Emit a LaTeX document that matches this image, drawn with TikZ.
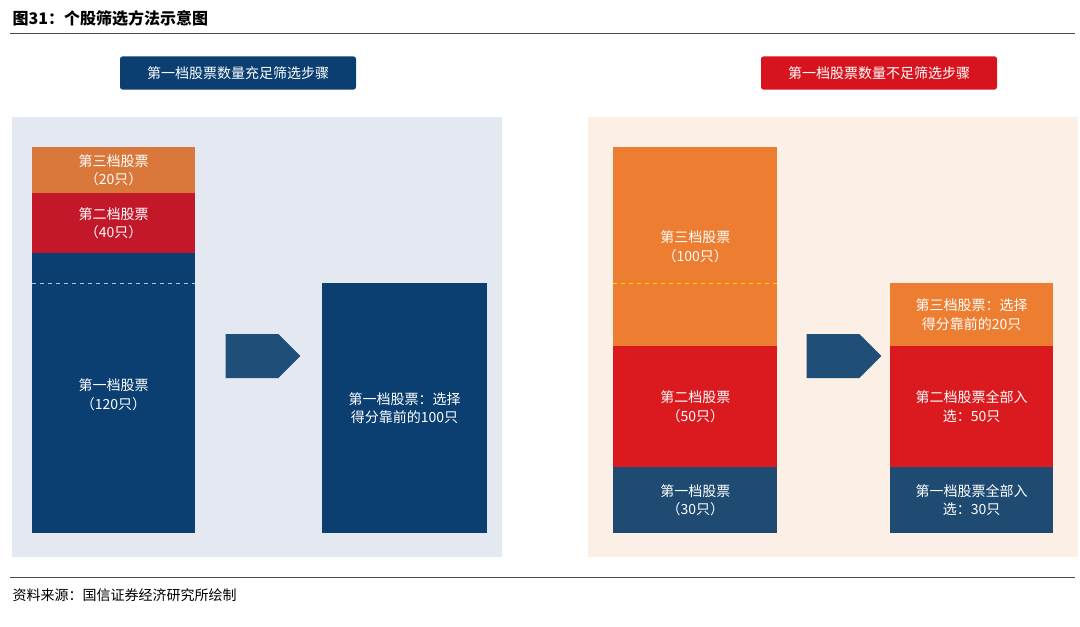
\documentclass[tikz,border=0pt]{standalone}
\usepackage{fontspec}
\setmainfont{Noto Sans CJK SC}
\usetikzlibrary{shapes.arrows,positioning}
\definecolor{navyL}{HTML}{0B3F72}
\definecolor{redL}{HTML}{C3182A}
\definecolor{orangeL}{HTML}{D9783A}
\definecolor{navyR}{HTML}{1F4A72}
\definecolor{redR}{HTML}{DA1A1F}
\definecolor{orangeR}{HTML}{ED7D31}
\definecolor{arrowC}{HTML}{1F4E79}
\definecolor{bgL}{HTML}{E4E9F1}
\definecolor{bgR}{HTML}{FBEFE6}
\definecolor{headR}{HTML}{D7141E}

\begin{document}
\begin{tikzpicture}[x=0.75pt, y=-0.75pt,
    header/.style={rectangle, rounded corners=2pt, text=white, font=\fontsize{10.5}{13}\selectfont, minimum width=177pt, minimum height=25pt, inner sep=0pt},
    bar/.style={rectangle, text=white, font=\fontsize{10.5}{14}\selectfont, align=center, inner sep=0pt, anchor=north west},
    bartext/.style={text=white, font=\fontsize{10.5}{14}\selectfont, align=center, inner sep=0pt},
    bigarrow/.style={single arrow, fill=arrowC, minimum height=56pt, minimum width=33pt, single arrow head extend=0pt, single arrow tip angle=90, inner sep=0pt, shape border rotate=0}
]
\useasboundingbox (0,0) rectangle (1080,627);

% Title and rules
\node[anchor=west, font=\fontsize{12}{14}\selectfont\bfseries] (title) at (8,18) {图31：个股筛选方法示意图};
\draw[black!70] (10,33) -- (1075,33);
\draw[black!70] (10,577) -- (1075,577);
\node[anchor=west, font=\fontsize{10.5}{13}\selectfont] (source) at (8,595) {资料来源：国信证券经济研究所绘制};

% Headers
\node[header, fill=navyL] (headL) at (238,73) {第一档股票数量充足筛选步骤};
\node[header, fill=headR] (headR) at (879,73) {第一档股票数量不足筛选步骤};

% Panels
\fill[bgL] (12,117) rectangle (502,557);
\fill[bgR] (588,117) rectangle (1078,557);

% Left panel
\node[bar, fill=orangeL, minimum width=122pt, minimum height=34.5pt] (l3) at (32,147) {第三档股票\\（20只）};
\node[bar, fill=redL, minimum width=122pt, minimum height=45pt] (l2) at (32,193) {第二档股票\\（40只）};
\node[bar, fill=navyL, minimum width=122pt, minimum height=210pt] (l1) at (32,253) {};
\node[bartext] (l1txt) at (113.5,395) {第一档股票\\（120只）};
\draw[white!70!navyL, dashed] (32,283) -- (195,283);
\node[bigarrow] (arrL) at (252,356) {};
\node[bar, fill=navyL, minimum width=123.5pt, minimum height=187.5pt, anchor=center] (l1sel) at (404.5,408) {第一档股票：选择\\得分靠前的100只};

% Right panel
\node[bar, fill=orangeR, minimum width=123pt, minimum height=149pt] (r3) at (613,147) {第三档股票\\（100只）};
\draw[yellow!80!orange, dashed] (613,283) -- (777,283);
\node[bar, fill=redR, minimum width=123pt, minimum height=91pt] (r2) at (613,346) {第二档股票\\（50只）};
\node[bar, fill=navyR, minimum width=123pt, minimum height=49.5pt] (r1) at (613,467) {第一档股票\\（30只）};
\node[bigarrow] (arrR) at (833,356) {};
\node[bar, fill=orangeR, minimum width=122pt, minimum height=47pt] (r3sel) at (890,283) {第三档股票：选择\\得分靠前的20只};
\node[bar, fill=redR, minimum width=122pt, minimum height=91pt] (r2sel) at (890,346) {第二档股票全部入\\选：50只};
\node[bar, fill=navyR, minimum width=122pt, minimum height=49.5pt] (r1sel) at (890,467) {第一档股票全部入\\选：30只};
\end{tikzpicture}
\end{document}
